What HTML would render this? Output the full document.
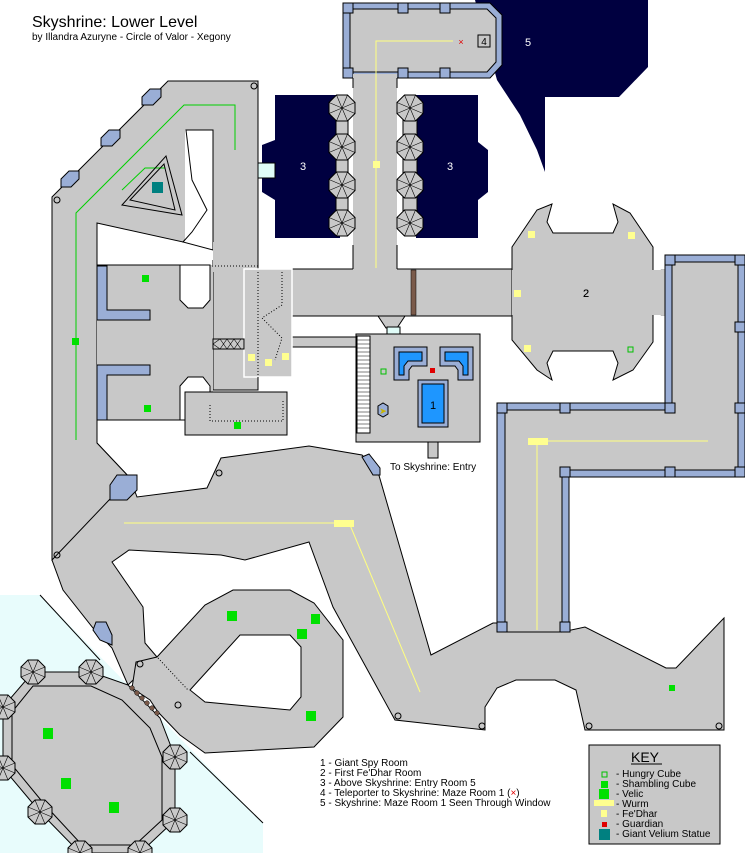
<!DOCTYPE html>
<html><head><meta charset="utf-8"><style>
html,body{margin:0;padding:0;background:#fff}
svg{display:block}
text{font-family:"Liberation Sans",sans-serif}
</style></head><body>
<svg width="745" height="853" viewBox="0 0 745 853" xmlns="http://www.w3.org/2000/svg">
<defs>
<g id="pil"><polygon points="-5.5,-13 5.5,-13 13,-5.5 13,5.5 5.5,13 -5.5,13 -13,5.5 -13,-5.5" fill="#c8c8c8" stroke="#000" stroke-width="1"/>
<path d="M0 0L-5.5 -13M0 0L5.5 -13M0 0L13 -5.5M0 0L13 5.5M0 0L5.5 13M0 0L-5.5 13M0 0L-13 5.5M0 0L-13 -5.5" stroke="#000" stroke-width="0.6"/></g>
<g id="pil2"><polygon points="-5,-12 5,-12 12,-5 12,5 5,12 -5,12 -12,5 -12,-5" fill="#c8c8c8" stroke="#000" stroke-width="1"/>
<path d="M0 0L-5 -12M0 0L5 -12M0 0L12 -5M0 0L12 5M0 0L5 12M0 0L-5 12M0 0L-12 5M0 0L-12 -5" stroke="#000" stroke-width="0.6"/></g>
</defs>

<!-- title -->
<text x="32" y="27" font-size="16">Skyshrine: Lower Level</text>
<text x="32" y="40" font-size="10">by Illandra Azuryne - Circle of Valor - Xegony</text>

<!-- cyan area -->
<polygon points="0,595 40,595 263,823 263,853 0,853" fill="#e8fcfc"/>
<line x1="40" y1="595" x2="100" y2="660" stroke="#000"/>
<line x1="190" y1="752" x2="263" y2="823" stroke="#000"/>

<!-- dark rooms -->
<polygon points="475,0 648,0 648,67 619,97 545,97 545,172 537,150 520,115 497,80" fill="#000040"/>
<polygon points="275,95 340,95 340,238 275,238 275,200 262,192 262,145 275,140" fill="#000040"/>
<polygon points="416,95 478,95 478,142 488,150 488,192 478,200 478,238 416,238" fill="#000040"/>
<rect x="258" y="163" width="17" height="15" fill="#e0fcf8" stroke="#000" stroke-width="1"/>
<text x="303" y="170" font-size="11" fill="#fff" text-anchor="middle">3</text>
<text x="450" y="170" font-size="11" fill="#fff" text-anchor="middle">3</text>
<text x="528" y="46" font-size="11" fill="#fff" text-anchor="middle">5</text>

<!-- top room -->
<polygon points="343,3 490,3 502,15 502,65 490,78 343,78" fill="#9aaed6" stroke="#000"/>
<polygon points="350,9 487,9 496,18 496,62 487,72 350,72" fill="#c8c8c8" stroke="#000"/>
<rect x="343" y="3" width="10" height="10" fill="#9aaed6" stroke="#000"/><rect x="398" y="3" width="10" height="10" fill="#9aaed6" stroke="#000"/><rect x="440" y="3" width="10" height="10" fill="#9aaed6" stroke="#000"/>
<rect x="343" y="68" width="10" height="10" fill="#9aaed6" stroke="#000"/><rect x="398" y="68" width="10" height="10" fill="#9aaed6" stroke="#000"/><rect x="440" y="68" width="10" height="10" fill="#9aaed6" stroke="#000"/>
<rect x="478" y="35" width="12" height="12" fill="#c8c8c8" stroke="#000"/><text x="484" y="45" font-size="10" text-anchor="middle">4</text>
<text x="461" y="45" font-size="9" fill="#e00000" text-anchor="middle">×</text>

<!-- vertical corridor -->
<rect x="353" y="74" width="44" height="200" fill="#c8c8c8"/>
<line x1="353" y1="78" x2="353" y2="88" stroke="#000"/><line x1="397" y1="78" x2="397" y2="88" stroke="#000"/>
<line x1="353" y1="245" x2="353" y2="269" stroke="#000"/><line x1="397" y1="245" x2="397" y2="269" stroke="#000"/>
<rect x="403" y="110" width="14" height="120" fill="#c8c8c8" stroke="#000"/>
<rect x="336" y="110" width="12" height="120" fill="#c8c8c8" stroke="#000"/>
<use href="#pil" x="410" y="108"/><use href="#pil" x="410" y="147"/><use href="#pil" x="410" y="185"/><use href="#pil" x="410" y="223"/>
<use href="#pil" x="342" y="108"/><use href="#pil" x="342" y="147"/><use href="#pil" x="342" y="185"/><use href="#pil" x="342" y="223"/>
<polyline points="376,268 376,41 453,41" fill="none" stroke="#ffff80" stroke-width="1"/>
<rect x="373" y="161" width="7" height="7" fill="#ffff90"/>

<!-- horizontal corridor -->
<rect x="244" y="269" width="272" height="47" fill="#c8c8c8"/>
<line x1="244" y1="269" x2="353" y2="269" stroke="#000"/><line x1="397" y1="269" x2="512" y2="269" stroke="#000"/>
<line x1="292" y1="316" x2="512" y2="316" stroke="#000"/>
<rect x="292" y="337" width="66" height="10" fill="#c8c8c8" stroke="#000"/>
<polygon points="378,316 405,316 397,328 386,328" fill="#c8c8c8" stroke="#000"/>
<rect x="387" y="327" width="13" height="7" fill="#e0fcf8" stroke="#000"/>
<g fill="#7a5a4a" stroke="#000" stroke-width="0.5"><rect x="411" y="270" width="5" height="45"/><rect x="661" y="270" width="5" height="45"/></g>

<!-- room 2 -->
<polygon points="552,204 547,222 553,233 613,233 618,222 613,204 630,213 653,247 653,342 633,370 613,380 618,363 613,351 553,351 547,363 552,380 537,370 512,340 512,247 537,210" fill="#c8c8c8" stroke="#000"/>
<rect x="512" y="270" width="3" height="45" fill="#c8c8c8"/><rect x="651" y="270" width="16" height="45" fill="#c8c8c8"/>
<text x="586" y="297" font-size="11" text-anchor="middle">2</text>
<g fill="#ffff90"><rect x="528" y="231" width="7" height="7"/><rect x="628" y="232" width="7" height="7"/><rect x="514" y="290" width="7" height="7"/><rect x="524" y="345" width="7" height="7"/></g>
<rect x="628" y="347" width="5" height="5" fill="none" stroke="#00c000"/>

<!-- right L structure -->
<polygon points="497,403 665,403 665,255 745,255 745,477 569,477 569,632 497,632" fill="#9aaed6" stroke="#000"/>

<!-- lower big corridor -->
<polygon points="52,480 97,443 130,478 137,497 207,488 221,458 309,446 362,455 378,472 431,655 493,623 505,623 505,460 562,460 562,632 585,627 666,668 676,668 724,618 724,730 585,730 576,690 555,680 516,680 497,688 485,707 485,730 395,720 333,607 309,542 245,560 221,555 129,550 112,562 143,607 145,643 157,657 128,685 112,648 93,628 63,590 52,560" fill="#c8c8c8" stroke="#000"/>
<polygon points="505,410 672,410 672,262 738,262 738,470 562,470 562,632 505,632" fill="#c8c8c8" stroke="#000"/>
<g fill="#9aaed6" stroke="#000"><rect x="497" y="403" width="10" height="10"/><rect x="560" y="403" width="10" height="10"/><rect x="665" y="403" width="10" height="10"/><rect x="665" y="255" width="10" height="10"/><rect x="735" y="255" width="10" height="10"/><rect x="735" y="322" width="10" height="10"/><rect x="735" y="403" width="10" height="10"/><rect x="497" y="622" width="10" height="10"/><rect x="560" y="622" width="10" height="10"/><rect x="560" y="467" width="10" height="10"/><rect x="665" y="467" width="10" height="10"/><rect x="735" y="467" width="10" height="10"/></g>
<polyline points="708,441 528,441" fill="none" stroke="#ffff80"/>
<line x1="537" y1="441" x2="537" y2="630" stroke="#ffff80"/>
<rect x="528" y="438" width="20" height="7" fill="#ffff90"/>
<rect x="669" y="685" width="6" height="6" fill="#00e000"/>
<text x="586" y="297" font-size="11" text-anchor="middle">2</text>

<!-- left big structure -->
<polygon points="52,197 168,81 258,81 258,390 213,390 213,250 207,210 213,130 186,130 192,180 207,210 192,232 183,242 97,223 97,443 130,478 52,560" fill="#c8c8c8" stroke="#000"/>
<rect x="185" y="130" width="28" height="130" fill="#fff"/>
<polygon points="186,130 213,130 213,250 183,242 192,232 207,210 192,180" fill="#fff" stroke="#000"/>
<rect x="213" y="242" width="31" height="30" fill="#c8c8c8"/>
<!-- side rooms -->
<rect x="97" y="265" width="116" height="155" fill="#c8c8c8"/>
<polygon points="180,265 210,265 210,300 203,308 188,308 180,300" fill="#fff" stroke="#000"/>
<polygon points="180,420 180,386 188,377 203,377 210,386 210,420" fill="#fff" stroke="#000"/>
<line x1="97" y1="265" x2="180" y2="265" stroke="#000"/><line x1="97" y1="420" x2="180" y2="420" stroke="#000"/>
<polygon points="97,266 107,266 107,310 150,310 150,320 97,320" fill="#9aaed6" stroke="#000"/>
<polygon points="97,420 107,420 107,375 150,375 150,365 97,365" fill="#9aaed6" stroke="#000"/>
<rect x="185" y="392" width="102" height="43" fill="#c8c8c8" stroke="#000"/>
<rect x="244" y="269" width="48" height="108" fill="#c8c8c8" stroke="#fff" stroke-width="1.5"/>
<rect x="213" y="339" width="31" height="10" fill="#c8c8c8" stroke="#000"/>
<path d="M213 344 L220 339 L227 349 L234 339 L241 349 M213 344 L220 349 L227 339 L234 349 L241 339" stroke="#000" stroke-width="0.6" fill="none"/>
<g fill="none" stroke="#000" stroke-dasharray="1,2"><polyline points="212,266 258,266"/><polyline points="258,272 258,378"/><polyline points="282,272 282,305 262,318 282,338 275,360"/><polyline points="210,405 210,421 283,421 283,400"/></g>
<polyline points="122,190 145,168 165,168" fill="none" stroke="#00d000"/>
<polyline points="76,440 76,213 184,105 235,105 235,150" fill="none" stroke="#00d000"/>
<polygon points="122,205 166,156 182,215" fill="none" stroke="#000"/>
<polygon points="130,200 164,164 175,210" fill="none" stroke="#000"/>
<rect x="152" y="182" width="11" height="11" fill="#008080"/>
<g fill="#9aaed6" stroke="#000"><polygon points="142,97 150,89 161,89 161,97 153,105 142,105"/><polygon points="101,138 109,130 120,130 120,138 112,146 101,146"/><polygon points="61,179 69,171 79,171 79,179 71,187 61,187"/><polygon points="110,485 117,475 137,475 137,490 127,500 110,500"/><polygon points="93,630 96,622 106,622 112,635 112,645 100,640"/><polygon points="362,457 369,454 380,468 380,475 373,475"/></g>
<g fill="#00e000"><rect x="142" y="275" width="7" height="7"/><rect x="72" y="338" width="7" height="7"/><rect x="144" y="405" width="7" height="7"/><rect x="234" y="422" width="7" height="7"/></g>
<g fill="#ffff90"><rect x="248" y="354" width="7" height="7"/><rect x="265" y="359" width="7" height="7"/><rect x="282" y="353" width="7" height="7"/></g>
<polyline points="124,523 335,523" fill="none" stroke="#ffff80"/>
<line x1="350" y1="525" x2="420" y2="692" stroke="#ffff80"/>
<rect x="334" y="520" width="20" height="7" fill="#ffff90"/>

<!-- room 1 -->
<rect x="356" y="334" width="124" height="108" fill="#c8c8c8" stroke="#000"/>
<rect x="357" y="336" width="13" height="97" fill="#fff" stroke="#000"/>
<path d="M357 340H370M357 344H370M357 348H370M357 352H370M357 356H370M357 360H370M357 364H370M357 368H370M357 372H370M357 376H370M357 380H370M357 384H370M357 388H370M357 392H370M357 396H370M357 400H370M357 404H370M357 408H370M357 412H370M357 416H370M357 420H370M357 424H370M357 428H370" stroke="#000" stroke-width="0.6"/>
<polygon points="394,347 427,347 427,366 412,366 409,370 409,380 394,380" fill="#9aaed6" stroke="#000"/>
<polygon points="399,352 422,352 422,361 408,361 404,366 404,375 399,375" fill="#1e96ff" stroke="#000"/>
<polygon points="440,347 473,347 473,380 458,380 458,370 455,366 440,366" fill="#9aaed6" stroke="#000"/>
<polygon points="445,352 468,352 468,375 463,375 463,366 459,361 445,361" fill="#1e96ff" stroke="#000"/>
<rect x="418" y="380" width="30" height="47" fill="#9aaed6" stroke="#000"/>
<rect x="422" y="384" width="22" height="39" fill="#1e96ff" stroke="#000"/>
<text x="433" y="409" font-size="11" text-anchor="middle">1</text>
<rect x="430" y="368" width="5" height="5" fill="#e00000"/>
<rect x="381" y="369" width="5" height="5" fill="none" stroke="#00c000"/>
<polygon points="378,406 383,403 388,406 388,414 383,417 378,414" fill="#9aaed6" stroke="#000"/>
<text x="383" y="414" font-size="9" fill="#c8b400" text-anchor="middle">➤</text>
<rect x="428" y="442" width="10" height="16" fill="#c8c8c8" stroke="#000"/>
<text x="390" y="470" font-size="10">To Skyshrine: Entry</text>

<!-- loop room -->
<polygon points="136,662 157,657 205,605 233,590 290,590 314,603 343,640 343,717 314,747 205,753 180,735 158,712 150,700 132,688" fill="#c8c8c8" stroke="#000"/>
<polygon points="240,635 290,635 301,647 301,697 290,710 205,702 190,690" fill="#fff" stroke="#000"/>
<line x1="158" y1="658" x2="188" y2="690" stroke="#000" stroke-dasharray="1,2"/>
<g fill="#00e000"><rect x="227" y="611" width="10" height="10"/><rect x="311" y="614" width="9" height="10"/><rect x="297" y="629" width="10" height="10"/><rect x="306" y="711" width="10" height="10"/></g>

<!-- octagon room -->
<polygon points="33,672 91,672 128,685 160,718 175,757 175,820 140,853 80,853 40,812 3,768 3,707" fill="#c8c8c8" stroke="#000"/>
<polygon points="33,686 91,686 122,700 150,728 162,757 162,820 135,845 82,845 45,805 12,765 12,712" fill="none" stroke="#000"/>
<use href="#pil2" x="33" y="672"/><use href="#pil2" x="91" y="672"/><use href="#pil2" x="3" y="707"/><use href="#pil2" x="3" y="768"/><use href="#pil2" x="40" y="812"/><use href="#pil2" x="80" y="853"/><use href="#pil2" x="140" y="853"/><use href="#pil2" x="175" y="757"/><use href="#pil2" x="175" y="820"/>
<g fill="#7a5a4a" stroke="#000" stroke-width="0.5"><circle cx="132" cy="688" r="2.3"/><circle cx="137" cy="693" r="2.3"/><circle cx="142" cy="698" r="2.3"/><circle cx="147" cy="703" r="2.3"/><circle cx="152" cy="708" r="2.3"/><circle cx="157" cy="713" r="2.3"/></g>
<g fill="#00e000"><rect x="43" y="728" width="10" height="11"/><rect x="61" y="778" width="10" height="11"/><rect x="109" y="802" width="10" height="11"/></g>

<!-- small circles -->
<g fill="none" stroke="#000"><circle cx="254" cy="86" r="3"/><circle cx="57" cy="200" r="3"/><circle cx="57" cy="555" r="3"/><circle cx="219" cy="473" r="3"/><circle cx="140" cy="664" r="3"/><circle cx="178" cy="705" r="3"/><circle cx="398" cy="716" r="3"/><circle cx="482" cy="726" r="3"/><circle cx="589" cy="726" r="3"/><circle cx="719" cy="726" r="3"/></g>

<!-- legend text -->
<g font-size="10"><text x="320" y="766">1 - Giant Spy Room</text><text x="320" y="776">2 - First Fe'Dhar Room</text><text x="320" y="786">3 - Above Skyshrine: Entry Room 5</text><text x="320" y="796">4 - Teleporter to Skyshrine: Maze Room 1 (<tspan fill="#e00000">×</tspan>)</text><text x="320" y="806">5 - Skyshrine: Maze Room 1 Seen Through Window</text></g>

<!-- key -->
<rect x="589" y="745" width="131" height="99" fill="#c8c8c8" stroke="#000"/>
<text x="631" y="762" font-size="14">KEY</text><line x1="631" y1="764" x2="662" y2="764" stroke="#000"/>
<rect x="602" y="772" width="5" height="5" fill="none" stroke="#00c000"/>
<rect x="601" y="781" width="7" height="7" fill="#00e000"/>
<rect x="599" y="789" width="10" height="10" fill="#00e000"/>
<rect x="594" y="800" width="20" height="6" fill="#ffff90"/>
<rect x="601" y="810" width="6" height="7" fill="#ffff90"/>
<rect x="602" y="822" width="5" height="5" fill="#e00000"/>
<rect x="599" y="829" width="11" height="11" fill="#008080"/>
<g font-size="10"><text x="616" y="777">- Hungry Cube</text><text x="616" y="787">- Shambling Cube</text><text x="616" y="797">- Velic</text><text x="616" y="807">- Wurm</text><text x="616" y="817">- Fe'Dhar</text><text x="616" y="827">- Guardian</text><text x="616" y="837">- Giant Velium Statue</text></g>
</svg>
</body></html>
